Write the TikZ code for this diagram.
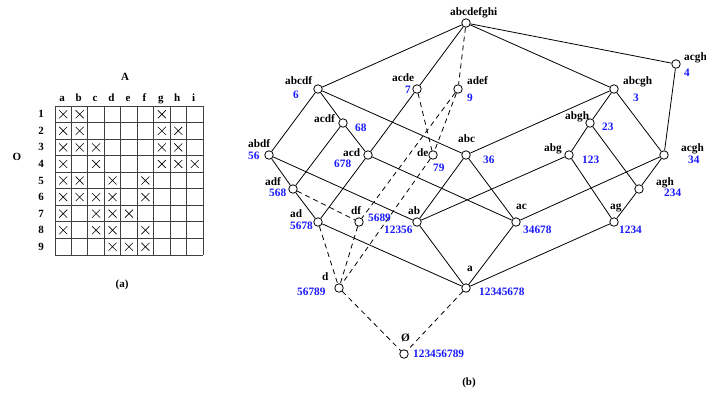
\documentclass[tikz,border=0pt]{standalone}
\usepackage{fontspec}
\setmainfont{Liberation Serif}
\definecolor{extblue}{RGB}{25,25,255}
\begin{document}
\begin{tikzpicture}[x=1pt,y=-1pt,
  vtx/.style={circle,draw,fill=white,minimum size=8.5pt,inner sep=0pt,line width=0.8pt},
  edge/.style={line width=0.8pt},
  dedge/.style={line width=0.8pt,dash pattern=on 5pt off 4pt},
  lbl/.style={anchor=base west,inner sep=0pt,yshift=-3.8pt,
    font=\fontsize{11.3}{13}\selectfont\bfseries},
  ext/.style={lbl,text=extblue},
  hdr/.style={anchor=center,inner sep=0pt,font=\fontsize{11}{13}\selectfont\bfseries},
  gridline/.style={line width=0.9pt,black!75},
  xline/.style={line width=0.6pt}]
\useasboundingbox (0,0) rectangle (706,392);

% ---------- (a) the formal context ----------
\def\cw{16.44}\def\ch{16.56}
\foreach \i in {0,...,9}{
  \draw[gridline] (55+\i*\cw,106) -- (55+\i*\cw,255);
  \draw[gridline] (55,106+\i*\ch) -- (203,106+\i*\ch);
}
\foreach \c/\t in {1/a,2/b,3/c,4/d,5/e,6/f,7/g,8/h,9/i}
  \node[hdr] (col-\t) at (55+\c*\cw-0.5*\cw-1,99) {\strut\t};
\foreach \r in {1,...,9}
  \node[hdr] (row-\r) at (41,106+\r*\ch-0.5*\ch) {\r};
\node[hdr] (attrs) at (125,77) {A};
\node[hdr] (objs) at (17,157) {O};
\node[hdr] (capa) at (122,285) {(a)};
\foreach \r/\cl in {1/{1,2,7},2/{1,2,7,8},3/{1,2,3,7,8},4/{1,3,7,8,9},
                    5/{1,2,4,6},6/{1,2,3,4,6},7/{1,3,4,5},8/{1,3,4,6},9/{4,5,6}}{
  \foreach \c in \cl{
    \draw[xline] (55+\c*\cw-0.5*\cw-4,106+\r*\ch-0.5*\ch-4) -- ++(8,8)
                 (55+\c*\cw-0.5*\cw-4,106+\r*\ch-0.5*\ch+4) -- ++(8,-8);
  }
}

% ---------- (b) the concept lattice ----------
\node[vtx] (T)      at (466,23)  {};
\node[vtx] (acghi)  at (676,64)  {};
\node[vtx] (abcgh)  at (614,89)  {};
\node[vtx] (abcdf)  at (318,89)  {};
\node[vtx] (acde)   at (417,89)  {};
\node[vtx] (adef)   at (458,89)  {};
\node[vtx] (acdf)   at (343,123) {};
\node[vtx] (abgh)   at (590,123) {};
\node[vtx] (abdf)   at (269,155) {};
\node[vtx] (acd)    at (368,155) {};
\node[vtx] (de)     at (433,155) {};
\node[vtx] (abc)    at (466,155) {};
\node[vtx] (abg)    at (569,155) {};
\node[vtx] (acgh)   at (664,155) {};
\node[vtx] (adf)    at (293,189) {};
\node[vtx] (agh)    at (639,189) {};
\node[vtx] (ad)     at (318,222) {};
\node[vtx] (df)     at (359,222) {};
\node[vtx] (ab)     at (417,222) {};
\node[vtx] (ac)     at (516,222) {};
\node[vtx] (ag)     at (614,222) {};
\node[vtx] (d)      at (339,288) {};
\node[vtx] (a)      at (466,288) {};
\node[vtx] (B)      at (404,354) {};

% solid cover relations
\foreach \u/\v in {T/abcdf,T/acde,T/abcgh,T/acghi,
  abcdf/abdf,abcdf/acdf,abcdf/abc,acde/acd,
  abcgh/abc,abcgh/abgh,abcgh/acgh,acghi/acgh,
  acdf/acd,acdf/adf,abdf/adf,abdf/ab,abc/ab,abc/ac,
  abgh/abg,abgh/agh,acgh/agh,acgh/ac,abg/ab,abg/ag,
  adf/ad,acd/ad,acd/ac,agh/ag,
  ad/a,ab/a,ac/a,ag/a}
  \draw[edge] (\u) -- (\v);
% dashed cover relations
\foreach \u/\v in {T/adef,acde/de,adef/de,adef/df,adf/df,
  de/d,ad/d,df/d,d/B,a/B}
  \draw[dedge] (\u) -- (\v);

% intents
\node[lbl] (T-i)     at (450,12)  {abcdefghi};
\node[lbl] (acghi-i) at (684,57)  {acgh};
\node[lbl] (abcgh-i) at (623,81)  {abcgh};
\node[lbl] (abcdf-i) at (285,81)  {abcdf};
\node[lbl] (acde-i)  at (392,78)  {acde};
\node[lbl] (adef-i)  at (467,81)  {adef};
\node[lbl] (acdf-i)  at (314,119) {acdf};
\node[lbl] (abgh-i)  at (565,116) {abgh};
\node[lbl] (abdf-i)  at (248,144) {abdf};
\node[lbl] (acd-i)   at (343,153) {acd};
\node[lbl] (de-i)    at (417,153) {de};
\node[lbl] (abc-i)   at (458,139) {abc};
\node[lbl] (abg-i)   at (544,148) {abg};
\node[lbl] (acgh-i)  at (681,148) {acgh};
\node[lbl] (adf-i)   at (265,182) {adf};
\node[lbl] (agh-i)   at (656,182) {agh};
\node[lbl] (ad-i)    at (290,214) {ad};
\node[lbl] (df-i)    at (351,211) {df};
\node[lbl] (ab-i)    at (408,211) {ab};
\node[lbl] (ac-i)    at (516,206) {ac};
\node[lbl] (ag-i)    at (610,206) {ag};
\node[lbl] (d-i)     at (322,277) {d};
\node[lbl] (a-i)     at (467,268) {a};
\node[lbl] (B-i)     at (401,338) {Ø};

% extents
\node[ext] (acghi-e) at (684,73)  {4};
\node[ext] (abcgh-e) at (633,98)  {3};
\node[ext] (abcdf-e) at (293,95)  {6};
\node[ext] (acde-e)  at (405,90)  {7};
\node[ext] (adef-e)  at (467,98)  {9};
\node[ext] (acdf-e)  at (355,128) {68};
\node[ext] (abgh-e)  at (602,127) {23};
\node[ext] (abdf-e)  at (248,156) {56};
\node[ext] (acd-e)   at (334,164) {678};
\node[ext] (de-e)    at (433,168) {79};
\node[ext] (abc-e)   at (483,160) {36};
\node[ext] (abg-e)   at (582,160) {123};
\node[ext] (acgh-e)  at (688,160) {34};
\node[ext] (adf-e)   at (269,193) {568};
\node[ext] (agh-e)   at (664,193) {234};
\node[ext] (ad-e)    at (290,226) {5678};
\node[ext] (df-e)    at (368,218) {5689};
\node[ext] (ab-e)    at (384,230) {12356};
\node[ext] (ac-e)    at (523,230) {34678};
\node[ext] (ag-e)    at (619,230) {1234};
\node[ext] (d-e)     at (297,292) {56789};
\node[ext] (a-e)     at (479,292) {12345678};
\node[ext] (B-e)     at (413,354) {123456789};

\node[hdr] (capb) at (469,383) {(b)};
\end{tikzpicture}
\end{document}
